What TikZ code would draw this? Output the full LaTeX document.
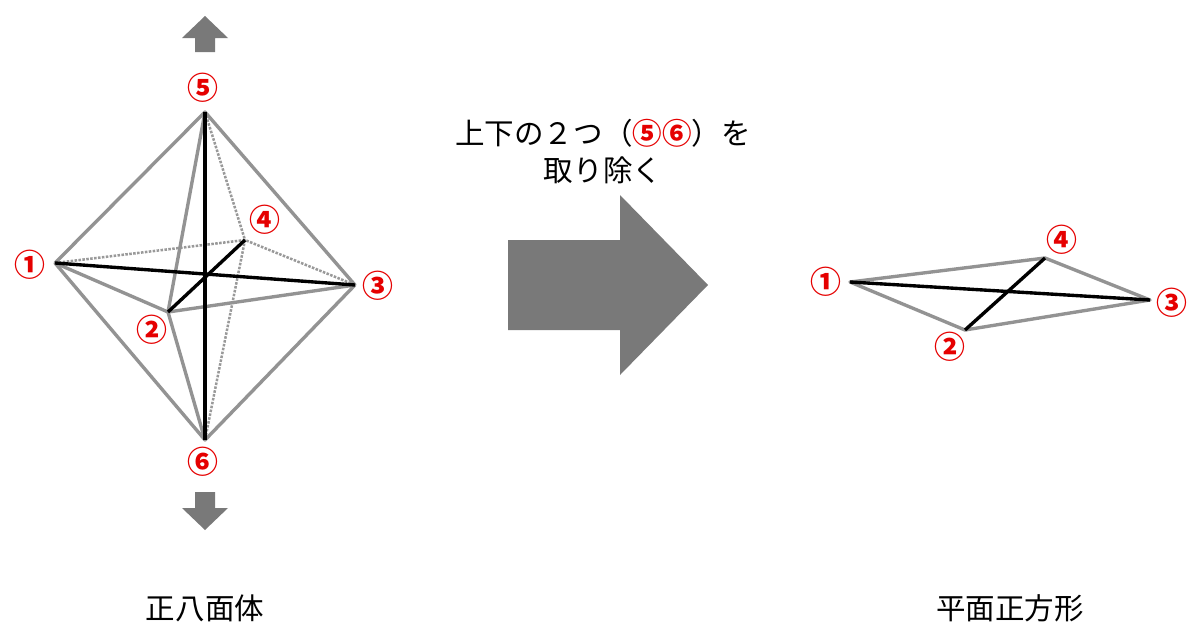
\documentclass[tikz,border=0pt]{standalone}
\usepackage{fontspec}
\setmainfont{Noto Sans CJK JP}
\begin{document}
\begin{tikzpicture}[x=0.05cm,y=-0.05cm,
  edge/.style={draw=gray!85,line width=4.8pt},
  bold/.style={draw=black,line width=4.8pt},
  hid/.style={draw=gray!80,line width=3.6pt,dotted},
  num/.style={text=red!90!black,font=\fontsize{44}{44}\selectfont\bfseries,inner sep=0pt},
  lab/.style={font=\fontsize{42}{52}\selectfont,align=center,inner sep=0pt}]
\useasboundingbox (0,0) rectangle (1200,642);
% octahedron
\coordinate (p5) at (205,112); \coordinate (p6) at (205,440);
\coordinate (p1) at (55,263); \coordinate (p3) at (355,285);
\coordinate (p2) at (168,312); \coordinate (p4) at (245,240);
\draw[hid] (p1)--(p4)--(p3); \draw[hid] (p5)--(p4)--(p6);
\draw[edge,line join=round] (p5)--(p1)--(p6)--(p3)--cycle;
\draw[edge,line join=round] (p5)--(p2)--(p6);
\draw[edge,line join=round] (p1)--(p2)--(p3);
\draw[bold] (p5)--(p6); \draw[bold] (p1)--(p3); \draw[bold] (p2)--(p4);
\node[num] (l5) at (203,88) {⑤};
\node[num] (l6) at (203,462) {⑥};
\node[num] (l1) at (30,265) {①};
\node[num] (l3) at (378,286) {③};
\node[num] (l2) at (152,330) {②};
\node[num] (l4) at (265,220) {④};
% small arrows
\fill[gray!95!black] (195,52)--(195,38)--(182,38)--(205,16)--(228,38)--(215,38)--(215,52)--cycle;
\fill[gray!95!black] (195,492)--(195,508)--(182,508)--(205,530)--(228,508)--(215,508)--(215,492)--cycle;
% big arrow
\fill[gray!95!black] (508,240)--(620,240)--(620,195)--(708,285)--(620,375)--(620,330)--(508,330)--cycle;
\node[lab] (t1) at (603,133) {上下の２つ（\textcolor{red!90!black}{\bfseries ⑤⑥}）を};
\node[lab] (t2) at (603,170) {取り除く};
% square planar
\coordinate (q1) at (850,282); \coordinate (q3) at (1150,300);
\coordinate (q4) at (1045,258); \coordinate (q2) at (965,330);
\draw[edge,line join=round] (q1)--(q4)--(q3)--(q2)--cycle;
\draw[bold] (q1)--(q3); \draw[bold] (q2)--(q4);
\node[num] (m1) at (826,282) {①};
\node[num] (m3) at (1172,303) {③};
\node[num] (m4) at (1062,240) {④};
\node[num] (m2) at (950,347) {②};
\node[lab] (c1) at (205,608) {正八面体};
\node[lab] (c2) at (1010,608) {平面正方形};
\end{tikzpicture}
\end{document}
